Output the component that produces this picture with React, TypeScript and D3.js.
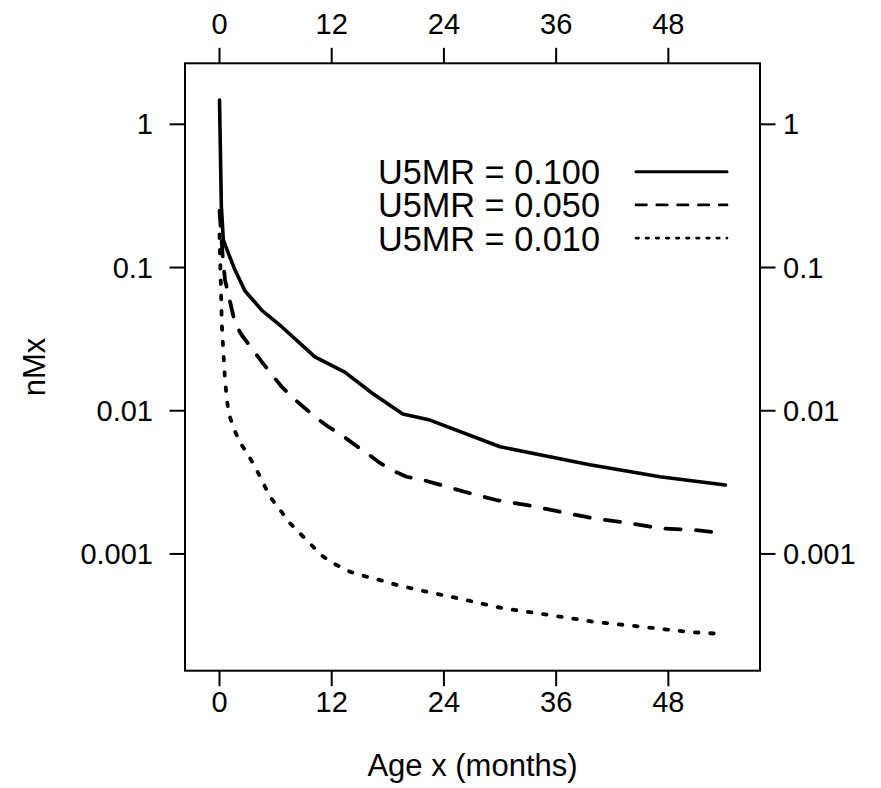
import React from "react";
import * as d3 from "d3";

// Age (months) and central death rate nMx for three under-five mortality levels
const agesHigh = [0, 0.2, 0.41, 0.94, 1.66, 2.73, 4.5, 6.65, 10.2, 13.4, 16.3, 19.6, 22.5, 30, 39.6, 47.1, 54.1];
const mxHigh = [1.48, 0.265, 0.156, 0.126, 0.096, 0.0686, 0.0505, 0.0386, 0.0238, 0.0186, 0.0133, 0.0095, 0.0086, 0.0056, 0.0042, 0.00346, 0.00303];

const agesMid = [0, 0.37, 0.59, 1.66, 2.37, 3.44, 4.51, 6.65, 7.72, 9.14, 10.2, 11.64, 13.07, 14.5, 15.56, 16.98, 18.4, 20.0, 21.8, 26.8, 29.6, 32.9, 36.4, 40, 43.5, 47.1, 50.7, 54.1];
const mxMid = [0.25, 0.113, 0.0818, 0.0408, 0.0338, 0.0273, 0.022, 0.0147, 0.01253, 0.0104, 0.00908, 0.00773, 0.00676, 0.00576, 0.00517, 0.0044, 0.00385, 0.00346, 0.00328, 0.00265, 0.00238, 0.00219, 0.00197, 0.00177, 0.00165, 0.00151, 0.00147, 0.00139];

const agesLow = [0, 0.15, 0.24, 0.41, 0.59, 0.77, 0.94, 1.48, 2.19, 3.08, 3.98, 5.4, 6.47, 7.54, 8.61, 10.03, 11.1, 12.53, 13.96, 15.74, 17.17, 18.95, 22.16, 25.5, 30.35, 35.35, 40, 45.2, 50, 54.1];
const mxLow = [0.17, 0.075, 0.041, 0.0258, 0.0164, 0.01253, 0.00984, 0.00763, 0.006, 0.0049, 0.00385, 0.00251, 0.00203, 0.00164, 0.00139, 0.00112, 0.000957, 0.000836, 0.000751, 0.000693, 0.000657, 0.000607, 0.000545, 0.00049, 0.000417, 0.000374, 0.000336, 0.00031, 0.000286, 0.000275];

const seriesLabels = ["U5MR = 0.100", "U5MR = 0.050", "U5MR = 0.010"];
const xTicks = [0, 12, 24, 36, 48];
const yTicks = [1, 0.1, 0.01, 0.001];
const yTickLabels = ["1", "0.1", "0.01", "0.001"];

const W = 881;
const H = 788;
const box = { left: 185, right: 760, top: 63.3, bottom: 670.7 };
const FONT = "'Liberation Sans', Arial, sans-serif";

const x = d3.scaleLinear().domain([-3.69, 57.8]).range([box.left, box.right]);
const y = d3.scaleLog().domain([2.667, 0.000153]).range([box.top, box.bottom]);

type Pt = [number, number];
const zip = (a: number[], v: number[]): Pt[] => a.map((t, i) => [t, v[i]]);

const line = d3
  .line<Pt>()
  .x((d) => x(d[0]))
  .y((d) => y(d[1]))
  .curve(d3.curveLinear);

const series = [
  { data: zip(agesHigh, mxHigh), dash: "none", legendDash: "none" },
  { data: zip(agesMid, mxMid), dash: "15.3 15.3", legendDash: "10.4 10.4" },
  { data: zip(agesLow, mxLow), dash: "3.6 11.7", legendDash: "2.5 7.6" },
];

const TICK = 15.5;

export default function App() {
  return (
    <svg
      width={W}
      height={H}
      viewBox={`0 0 ${W} ${H}`}
      style={{ position: "absolute", left: 0, top: 0, background: "#fff" }}
      fontFamily={FONT}
    >
      <rect x={0} y={0} width={W} height={H} fill="#fff" />
      <defs>
        <clipPath id="plotclip">
          <rect x={box.left} y={box.top} width={box.right - box.left} height={box.bottom - box.top} />
        </clipPath>
      </defs>

      {/* curves */}
      <g clipPath="url(#plotclip)">
        {series.map((s, i) => (
          <path
            key={i}
            d={line(s.data) ?? ""}
            fill="none"
            stroke="#000"
            strokeWidth={i === 0 ? 3.6 : 3.8}
            strokeDasharray={s.dash}
            strokeLinecap="round"
            strokeLinejoin="round"
          />
        ))}
      </g>

      {/* frame */}
      <rect
        x={box.left}
        y={box.top}
        width={box.right - box.left}
        height={box.bottom - box.top}
        fill="none"
        stroke="#000"
        strokeWidth={2}
      />

      {/* bottom and top axes */}
      {xTicks.map((t) => (
        <g key={`x${t}`}>
          <line x1={x(t)} x2={x(t)} y1={box.bottom} y2={box.bottom + TICK} stroke="#000" strokeWidth={2} />
          <text x={x(t)} y={712} fontSize={29} textAnchor="middle">
            {t}
          </text>
          <line x1={x(t)} x2={x(t)} y1={box.top} y2={box.top - TICK} stroke="#000" strokeWidth={2} />
          <text x={x(t)} y={33.5} fontSize={29} textAnchor="middle">
            {t}
          </text>
        </g>
      ))}

      {/* left and right axes */}
      {yTicks.map((t, i) => (
        <g key={`y${t}`}>
          <line x1={box.left - TICK} x2={box.left} y1={y(t)} y2={y(t)} stroke="#000" strokeWidth={2} />
          <text x={153} y={y(t) + 10} fontSize={29} textAnchor="end">
            {yTickLabels[i]}
          </text>
          <line x1={box.right} x2={box.right + TICK} y1={y(t)} y2={y(t)} stroke="#000" strokeWidth={2} />
          <text x={783} y={y(t) + 10} fontSize={29} textAnchor="start">
            {yTickLabels[i]}
          </text>
        </g>
      ))}

      {/* axis titles */}
      <text x={(box.left + box.right) / 2} y={776} fontSize={31} textAnchor="middle">
        Age x (months)
      </text>
      <text
        transform={`translate(45, ${(box.top + box.bottom) / 2}) rotate(-90)`}
        fontSize={31}
        textAnchor="middle"
      >
        nMx
      </text>

      {/* legend */}
      {seriesLabels.map((lab, i) => {
        const cy = 171.7 + i * 33.2;
        return (
          <g key={lab}>
            <text x={600} y={cy + 12.5} fontSize={34.3} textAnchor="end">
              {lab}
            </text>
            <line
              x1={636}
              x2={727}
              y1={cy}
              y2={cy}
              stroke="#000"
              strokeWidth={i === 0 ? 3 : 2.7}
              strokeDasharray={series[i].legendDash}
              strokeLinecap="round"
            />
          </g>
        );
      })}
    </svg>
  );
}
